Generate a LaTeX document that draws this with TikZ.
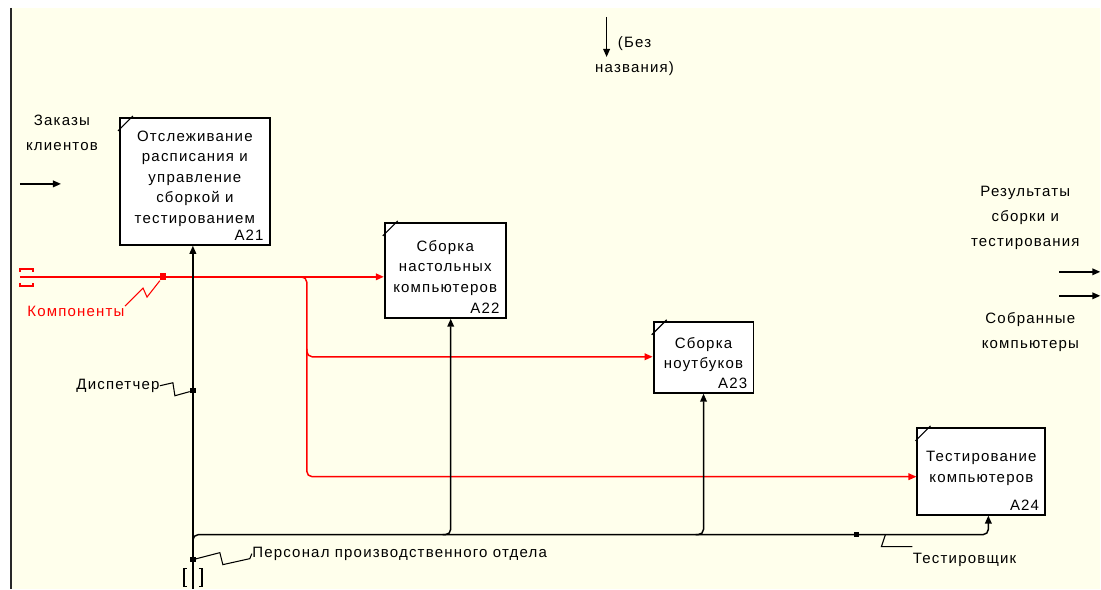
\documentclass[tikz,border=0pt]{standalone}
\usepackage{fontspec}
\setmainfont{Liberation Sans}[LetterSpace=8]
\usetikzlibrary{arrows.meta}

\tikzset{every picture/.style={line width=0.75pt}}
\tikzset{
  actbox/.style={draw=black, fill=white, line width=1.4pt, align=center, inner sep=0pt,
    font=\fontsize{11.25}{15.4}\selectfont},
  boxno/.style={anchor=south east, inner xsep=5pt, inner ysep=3.5pt, font=\fontsize{11.25}{13}\selectfont},
  lbl/.style={align=center, inner sep=0pt, font=\fontsize{11.25}{18.5}\selectfont},
  link/.style={color={rgb, 255:red, 0; green, 0; blue, 0}, line width=1.1pt},
  redlink/.style={color={rgb, 255:red, 255; green, 0; blue, 0}, line width=1.1pt},
  arrowend/.style={-{Triangle[length=6pt,width=5pt]}},
  jdot/.style={fill, minimum size=4pt, inner sep=0pt},
  squig/.style={line width=0.8pt},
}

\begin{document}
\begin{tikzpicture}[x=0.75pt,y=0.75pt,yscale=-1,xscale=1]
%Shape: Background
\fill [white] (0,0) rectangle (1101,589);
\fill [color={rgb, 255:red, 255; green, 255; blue, 236}] (11,8) rectangle (1101,589);
\draw [color={rgb, 255:red, 40; green, 40; blue, 40}, line width=1.5pt] (11,8) -- (11,589);

%Shape: Activity boxes
\node [actbox, minimum width=112.5pt, minimum height=95.25pt] (a21) at (195,181.5)
  {Отслеживание\\расписания и\\управление\\сборкой и\\тестированием\\[-9pt]};
\node [actbox, minimum width=90.75pt, minimum height=71.25pt] (a22) at (445.5,270.5)
  {Сборка\\настольных\\компьютеров\\[-9pt]};
\node [actbox, minimum width=75pt, minimum height=53.25pt] (a23) at (704,357.5)
  {Сборка\\ноутбуков\\[-9pt]};
\node [actbox, minimum width=96pt, minimum height=65.25pt] (a24) at (982,471.5)
  {Тестирование\\компьютеров\\[-9pt]};
\node [boxno] at (a21.south east) {A21};
\node [boxno] at (a22.south east) {A22};
\node [boxno] at (a23.south east) {A23};
\node [boxno] at (a24.south east) {A24};
\foreach \b in {a21,a22,a23,a24}
  \draw [line width=0.8pt] (\b.north west) ++(-1,14) -- ++(15,-15);

% Text Node
\node [lbl] (orders) at (62,133) {Заказы\\клиентов};
% Text Node
\node [lbl] (noname) at (635,56) {(Без\\названия)};
% Text Node
\node [lbl] (results) at (1026,218) {Результаты\\сборки и\\тестирования};
% Text Node
\node [lbl] (built) at (1031,332) {Собранные\\компьютеры};
% Text Node
\node [lbl, color={rgb, 255:red, 255; green, 0; blue, 0}] (parts) at (76,312) {Компоненты};
% Text Node
\node [lbl, anchor=east] (disp) at (160,386) {Диспетчер};
% Text Node
\node [lbl, anchor=west] (staff) at (252,554) {Персонал производственного отдела};
% Text Node
\node [lbl, anchor=west] (tester) at (913,560) {Тестировщик};

%Coordinates
\coordinate (ordin) at (20,184);
\coordinate (ordend) at (61,184);
\coordinate (ctltop) at (607,17);
\coordinate (ctlend) at (607,57);
\coordinate (out1) at (1060,272);
\coordinate (out1end) at (1101,272);
\coordinate (out2) at (1060,296);
\coordinate (out2end) at (1101,296);
\coordinate (cin) at (20,277);
\coordinate (rsplit) at (307,277);
\coordinate (rsplit2) at (307,357);
\coordinate (rsplit3) at (307,477);
\coordinate (mech) at (193,589);
\coordinate (mbase) at (193,535);
\coordinate (a22in) at (451,535);
\coordinate (a23in) at (704,535);
\coordinate (a24in) at (989,535);
\coordinate (tsq) at (886,535);

%Straight Lines: boundary arrows
\draw [link, arrowend] (ordin) -- (ordend);
\draw [link, arrowend] (ctltop) -- (ctlend);
\draw [link, arrowend] (out1) -- (out1end);
\draw [link, arrowend] (out2) -- (out2end);

%Straight Lines: components
\draw [redlink, arrowend] (cin) -- (cin -| a22.west);
\draw [redlink, arrowend, rounded corners=4] (301,277) -- (rsplit) -- (rsplit3) -- (rsplit3 -| a24.west);
\draw [redlink, arrowend, rounded corners=4] (307,349) -- (rsplit2) -- (rsplit2 -| a23.west);
\draw [redlink] (20,272) -- (20,269) -- (33,269) -- (33,272);
\draw [redlink] (20,283) -- (20,286) -- (33,286) -- (33,283);
\node [jdot, minimum size=5pt, color={rgb, 255:red, 255; green, 0; blue, 0}] (pdot) at (163,277) {};
\draw [squig, color={rgb, 255:red, 255; green, 0; blue, 0}] (parts.north east) -- ++(18,-18) -- ++(4,9) -- (pdot);

%Straight Lines: mechanisms
\draw [link, arrowend] (mech) -- (mech |- a21.south);
\draw [link, arrowend, rounded corners=4] (193,545) -- (mbase) -- (a24in) -- (a24in |- a24.south);
\draw [link, arrowend, rounded corners=4] (443,535) -- (a22in) -- (a22in |- a22.south);
\draw [link, arrowend, rounded corners=4] (696,535) -- (a23in) -- (a23in |- a23.south);
\draw [link] (187,569) -- (184,569) -- (184,587) -- (187,587);
\draw [link] (199,569) -- (202,569) -- (202,587) -- (199,587);
\node [jdot] (ddot) at (193,391) {};
\node [jdot] (sdot) at (193,560) {};
\node [jdot] (tdot) at (857,535) {};
\draw [squig] (disp.east) -- ++(13,-3) -- ++(2,13) -- (ddot);
\draw [squig] (sdot) -- ++(27,-7) -- ++(3,12) -- ++(27,-6) -- (staff.west);
\draw [squig] (tsq) -- ++(-4,12) -- ++(31,0);
\end{tikzpicture}
\end{document}
